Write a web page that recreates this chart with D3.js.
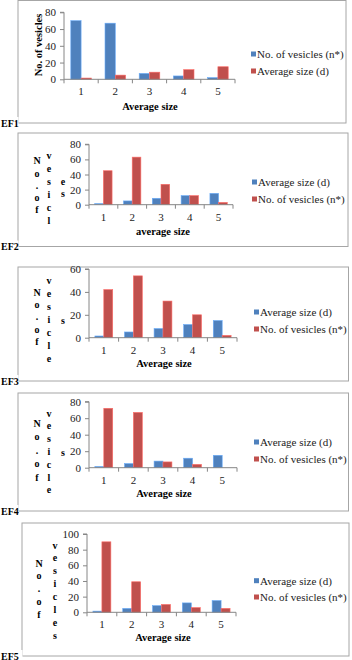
<!DOCTYPE html>
<html lang="en">
<head>
  <meta charset="UTF-8">
  <title>EF1-EF5 vesicles</title>
  <style>
    body { margin: 0; background: #fff; }
    text { font-family: 'Liberation Serif', 'Times New Roman', serif; }
  </style>
</head>
<body>
  <svg id="svg" width="352" height="660"></svg>

  <script src="https://d3js.org/d3.v7.min.js"></script>
  <script>
    // data
    const categories = ['1', '2', '3', '4', '5']

    const ef1Vesicles = [70, 67, 7, 4, 2]
    const ef1Size = [1.5, 5, 8.5, 11.5, 15]

    const ef2Size = [1.5, 5, 8.5, 12, 15]
    const ef2Vesicles = [45, 63, 27, 12, 3]

    const ef3Size = [1.5, 5, 8, 11.5, 15]
    const ef3Vesicles = [42, 54, 32, 20, 2]

    const ef4Size = [1.5, 5, 8, 11.5, 15]
    const ef4Vesicles = [72, 67, 7, 4, 0]

    const ef5Size = [1.5, 5, 8.5, 12, 15]
    const ef5Vesicles = [90, 39, 10, 6, 5]

    const yTicks1 = [0, 20, 40, 60, 80]
    const yTicks3 = [0, 20, 40, 60]
    const yTicks5 = [0, 20, 40, 60, 80, 100]

    const BLUE = '#4f81bd'
    const RED = '#c0504d'

    // layout for each panel
    const panels = [
      {
        name: 'EF1', box: [18, 0.5, 328, 122.5],
        x: [64, 235], y: [79.3, 12.3], ticks: yTicks1,
        series: [ef1Vesicles, ef1Size], labels: ['No. of vesicles (n*)', 'Average size (d)'],
        legend: [251, 54, 71], xTitle: ['Average size', 150, 110],
        yTitle: { rotated: 'No. of vesicles', x: 38, y: 45 }
      },
      {
        name: 'EF2', box: [18, 133, 330, 113.5],
        x: [89, 233], y: [204.7, 144.3], ticks: yTicks1,
        series: [ef2Size, ef2Vesicles], labels: ['Average size (d)', 'No. of vesicles (n*)'],
        legend: [252, 182, 199], xTitle: ['average size', 163, 235],
        yTitle: { cols: [['No.of', 37, 160.7, 12.3], ['vesicl', 49, 155, 13.1], ['es', 63, 181.7, 11.6]] }
      },
      {
        name: 'EF3', box: [18, 267, 330.5, 114],
        x: [89, 237], y: [337.7, 269], ticks: yTicks3,
        series: [ef3Size, ef3Vesicles], labels: ['Average size (d)', 'No. of vesicles (n*)'],
        legend: [254, 312, 329], xTitle: ['Average size', 164, 367],
        yTitle: { cols: [['No.of', 37, 292, 12.4], ['vesicle', 49, 280.7, 13], ['s', 63, 320, 0]] }
      },
      {
        name: 'EF4', box: [18, 393, 330.5, 118],
        x: [89, 237], y: [467.7, 401.7], ticks: yTicks1,
        series: [ef4Size, ef4Vesicles], labels: ['Average size (d)', 'No. of vesicles (n*)'],
        legend: [254, 442, 459], xTitle: ['Average size', 164, 497],
        yTitle: { cols: [['No.of', 37, 423, 13.6], ['vesicle', 49, 413, 12.8], ['s', 63, 452, 0]] }
      },
      {
        name: 'EF5', box: [22, 523, 327, 133],
        x: [87, 236], y: [612.3, 534], ticks: yTicks5,
        series: [ef5Size, ef5Vesicles], labels: ['Average size (d)', 'No. of vesicles (n*)'],
        legend: [254, 580.7, 597], xTitle: ['Average size', 163, 641],
        yTitle: { cols: [['No.of', 39, 563, 12.9], ['vesicles', 55, 545, 12.86]] }
      }
    ]

    const svg = d3.select('#svg')
    const colors = [BLUE, RED]

    panels.forEach(p => {
      const g = svg.append('g')
      const [bx, by, bw, bh] = p.box

      // frame
      g.append('rect')
        .attr('x', bx).attr('y', by).attr('width', bw).attr('height', bh)
        .attr('fill', 'none').attr('stroke', '#a6a6a6').attr('stroke-width', 1)

      // EF label sits on the bottom line
      g.append('rect')
        .attr('x', 0).attr('y', by + bh - 6).attr('width', bx + 0.5).attr('height', 12)
        .attr('fill', '#fff')
      g.append('text')
        .text(p.name)
        .attr('x', 1).attr('y', by + bh + 3.5)
        .style('font-size', '10px').style('font-weight', 'bold')

      const xScale = d3.scaleBand()
        .domain(categories)
        .range(p.x)

      const yScale = d3.scaleLinear()
        .domain([0, d3.max(p.ticks)])
        .range(p.y)

      const inner = d3.scaleBand()
        .domain([0, 1])
        .range([0, xScale.bandwidth()])
        .paddingOuter(0.66)

      // bars
      p.series.forEach((vals, si) => {
        g.selectAll(null)
          .data(vals)
          .enter()
          .append('rect')
          .attr('x', (d, i) => xScale(categories[i]) + inner(si))
          .attr('y', d => yScale(d))
          .attr('width', inner.bandwidth())
          .attr('height', d => yScale(0) - yScale(d))
          .attr('fill', colors[si])
          .attr('stroke', d3.color(colors[si]).brighter(0.8))
          .attr('stroke-width', 0.6)
      })

      // y axis
      const yAxis = d3.axisLeft(yScale)
        .tickValues(p.ticks)
        .tickSize(4)
        .tickPadding(4)
      const ya = g.append('g')
        .attr('transform', `translate(${p.x[0]},0)`)
        .call(yAxis)
      ya.select('.domain').attr('stroke', '#868686').attr('d', `M-4,${p.y[1]}H0V${p.y[0]}`)
      ya.selectAll('line').attr('stroke', '#868686')
      ya.selectAll('text')
        .style('font-family', 'Liberation Serif, serif')
        .style('font-size', '11px').attr('fill', '#222')

      // x axis with tick marks between the categories
      const xa = g.append('g').attr('transform', `translate(0,${p.y[0]})`)
      xa.append('line')
        .attr('x1', p.x[0]).attr('x2', p.x[1])
        .attr('stroke', '#868686')
      xa.selectAll('.sep')
        .data(categories.concat(['end']))
        .enter()
        .append('line')
        .attr('x1', (d, i) => i < categories.length ? xScale(d) : p.x[1])
        .attr('x2', (d, i) => i < categories.length ? xScale(d) : p.x[1])
        .attr('y1', 0).attr('y2', 4)
        .attr('stroke', '#868686')
      xa.selectAll('.lab')
        .data(categories)
        .enter()
        .append('text')
        .text(d => d)
        .attr('x', d => xScale(d) + xScale.bandwidth() / 2)
        .attr('y', 16)
        .attr('text-anchor', 'middle')
        .style('font-size', '11px').attr('fill', '#222')

      // x title
      g.append('text')
        .text(p.xTitle[0])
        .attr('x', p.xTitle[1]).attr('y', p.xTitle[2])
        .attr('text-anchor', 'middle')
        .style('font-size', '10.5px').style('font-weight', 'bold')

      // y title
      if (p.yTitle.rotated) {
        g.append('text')
          .text(p.yTitle.rotated)
          .attr('transform', `translate(${p.yTitle.x},${p.yTitle.y}) rotate(-90)`)
          .attr('text-anchor', 'middle')
          .attr('dy', '0.35em')
          .style('font-size', '10.5px').style('font-weight', 'bold')
      } else {
        p.yTitle.cols.forEach(([word, cx, cy, step]) => {
          g.selectAll(null)
            .data(word.split(''))
            .enter()
            .append('text')
            .text(d => d)
            .attr('x', cx)
            .attr('y', (d, i) => cy + i * step)
            .attr('dy', '0.35em')
            .attr('text-anchor', 'middle')
            .style('font-size', '10px').style('font-weight', 'bold')
        })
      }

      // legend
      const [lx, ly1, ly2] = p.legend
      const leg = g.selectAll('.legend')
        .data(p.labels)
        .enter()
        .append('g')
        .attr('transform', (d, i) => `translate(${lx},${i === 0 ? ly1 : ly2})`)
      leg.append('rect')
        .attr('x', 0).attr('y', -2.5).attr('width', 5).attr('height', 5)
        .attr('fill', (d, i) => colors[i])
      leg.append('text')
        .text(d => d)
        .attr('x', 6).attr('dy', '0.35em')
        .style('font-size', '11px').attr('fill', '#222')
    })
  </script>
</body>
</html>
